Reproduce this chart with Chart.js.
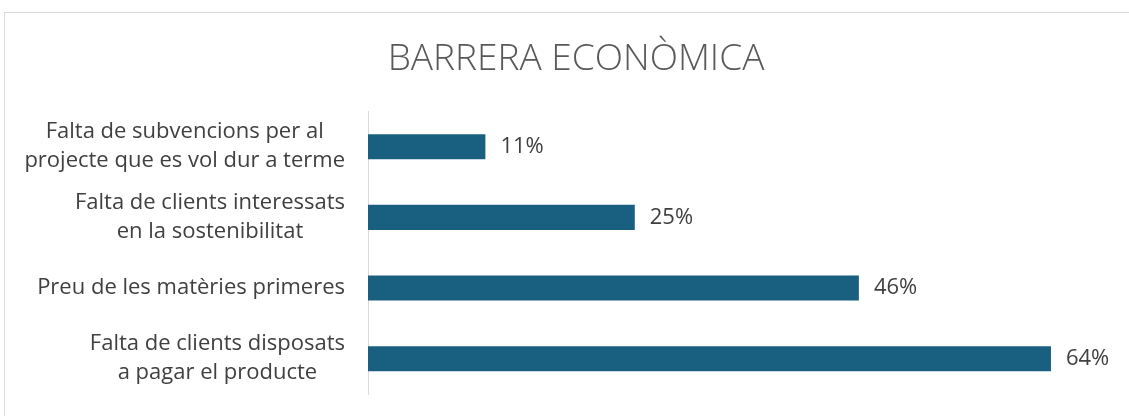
<!DOCTYPE html>
<html>
<head>
<meta charset="utf-8">
<script src="https://cdn.jsdelivr.net/npm/chart.js@4"></script>
<style>
  html, body { margin: 0; padding: 0; background: #fff; overflow: hidden; }
  #box {
    position: absolute; left: 4px; top: 12px;
    width: 1144px; height: 420px;
    border: 1px solid #d9d9d9; box-sizing: border-box;
  }
  #chartCanvas { display: block; }
</style>
</head>
<body>
<div id="box"><canvas id="chartCanvas" width="1142" height="418"></canvas></div>
<script>
const categories = [
  ['Falta de subvencions per al', 'projecte que es vol dur a terme'],
  ['Falta de clients interessats', 'en la sostenibilitat'],
  ['Preu de les matèries primeres'],
  ['Falta de clients disposats', 'a pagar el producte']
];
const percentages = [11, 25, 46, 64];

const labelFont = '22px "Open Sans"';
const textColor = '#404040';

// category names drawn as blocks: right edge on the axis gap, lines centred inside
const categoryLabels = {
  id: 'categoryLabels',
  afterDraw(chart) {
    const c = chart.ctx;
    const y = chart.scales.y;
    c.save();
    c.font = labelFont;
    c.fillStyle = textColor;
    c.textAlign = 'center';
    c.textBaseline = 'middle';
    const right = y.right - 23;
    const lineGap = 29;
    categories.forEach((lines, i) => {
      const mid = y.getPixelForTick(i);
      const w = Math.max(...lines.map(l => c.measureText(l).width));
      const cx = right - w / 2;
      const top = mid - (lines.length - 1) * lineGap / 2;
      lines.forEach((l, j) => c.fillText(l, cx, top + j * lineGap));
    });
    c.restore();
  }
};

// value labels to the right of each bar
const valueLabels = {
  id: 'valueLabels',
  afterDatasetsDraw(chart) {
    const c = chart.ctx;
    const meta = chart.getDatasetMeta(0);
    c.save();
    c.font = labelFont;
    c.fillStyle = textColor;
    c.textAlign = 'left';
    c.textBaseline = 'middle';
    meta.data.forEach((bar, i) => {
      c.fillText(percentages[i] + '%', bar.x + 15, bar.y);
    });
    c.restore();
  }
};

const ctx = document.getElementById('chartCanvas').getContext('2d');
const chart = new Chart(ctx, {
  type: 'bar',
  data: {
    labels: categories.map(l => l.join(' ')),
    datasets: [{
      data: percentages,
      backgroundColor: '#185f80',
      categoryPercentage: 1,
      barPercentage: 0.355
    }]
  },
  options: {
    indexAxis: 'y',
    responsive: false,
    animation: false,
    layout: { padding: { left: 0, right: 0, top: 0, bottom: 37 } },
    plugins: {
      legend: { display: false },
      tooltip: { enabled: false },
      title: {
        display: true,
        text: 'BARRERA ECONÒMICA',
        color: '#595959',
        font: { family: 'Open Sans', size: 37, weight: '300' },
        padding: { top: 24, bottom: 30 }
      }
    },
    scales: {
      x: { display: false, min: 0, max: 73 },
      y: {
        grid: { display: false, drawTicks: false },
        border: { display: true, color: '#d9d9d9', width: 1 },
        ticks: { display: false },
        afterFit(scale) { scale.width = 363; }
      }
    }
  },
  plugins: [categoryLabels, valueLabels]
});
</script>
</body>
</html>
